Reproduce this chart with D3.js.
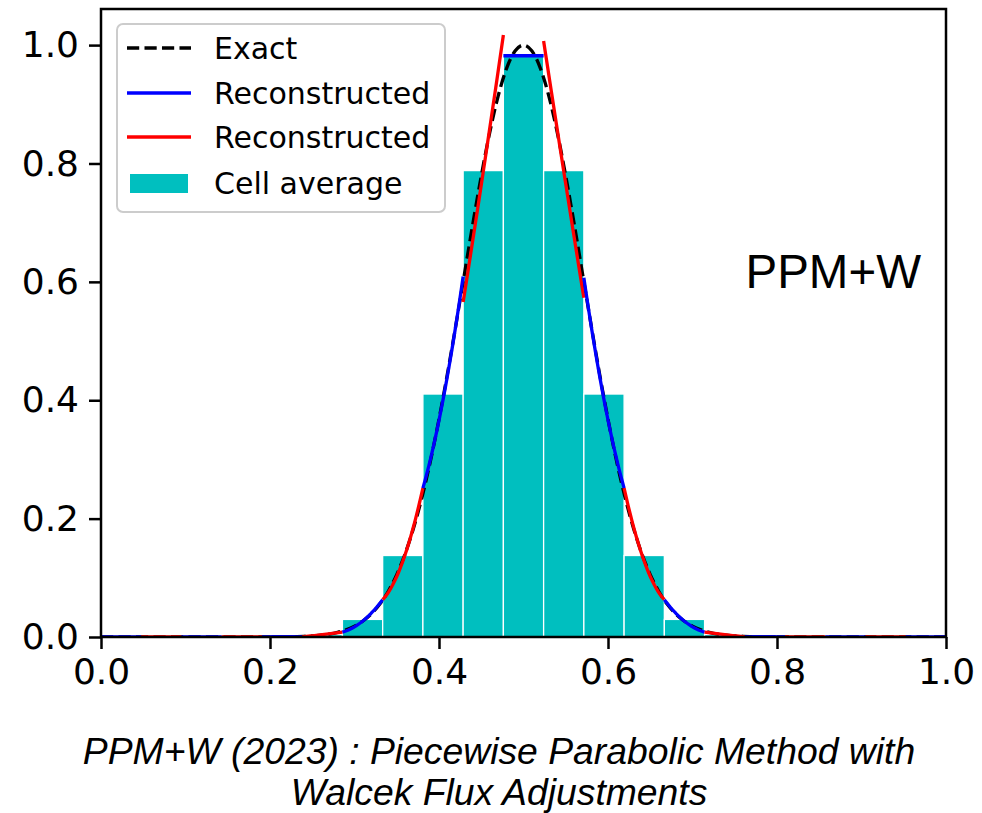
<!DOCTYPE html>
<html>
<head>
<meta charset="utf-8">
<script src="https://cdn.jsdelivr.net/npm/d3@7"></script>
<style>
  html, body { margin: 0; padding: 0; background: #fff; }
  svg { display: block; }
</style>
</head>
<body>
<svg id="chart" width="982" height="813"></svg>
<script>
// ---------- data ----------
const cellEdges = [0, 0.04762, 0.09524, 0.14286, 0.19048, 0.2381, 0.28571, 0.33333, 0.38095, 0.42857, 0.47619,
  0.52381, 0.57143, 0.61905, 0.66667, 0.71429, 0.7619, 0.80952, 0.85714, 0.90476, 0.95238, 1];
const cellAverage = [0, 0, 0, 0, 0.0004, 0.0041, 0.0297, 0.1377, 0.4105, 0.788, 0.982,
  0.788, 0.4105, 0.1377, 0.0297, 0.0041, 0.0004, 0, 0, 0, 0];
const reconLeft = [0, 0, 0, 0, 0, 0.00015, 0.0082, 0.0631, 0.2516, 0.566, 0.982,
  1.007, 0.607, 0.2516, 0.0631, 0.0082, 0.00015, 0, 0, 0, 0];
const reconRight = [0, 0, 0, 0, 0.00015, 0.0082, 0.0631, 0.2516, 0.609, 1.017, 0.982,
  0.573, 0.2516, 0.0631, 0.0082, 0.00015, 0, 0, 0, 0, 0];
const exactX = [0, 0.20, 0.21, 0.22, 0.23, 0.24, 0.25, 0.26, 0.27, 0.28, 0.29, 0.30, 0.31, 0.32, 0.33, 0.34, 0.35,
  0.36, 0.37, 0.38, 0.39, 0.40, 0.41, 0.42, 0.43, 0.44, 0.45, 0.46, 0.47, 0.48, 0.49, 0.50,
  0.51, 0.52, 0.53, 0.54, 0.55, 0.56, 0.57, 0.58, 0.59, 0.60, 0.61, 0.62, 0.63, 0.64, 0.65,
  0.66, 0.67, 0.68, 0.69, 0.70, 0.71, 0.72, 0.73, 0.74, 0.75, 0.76, 0.77, 0.78, 0.79, 0.80, 1];
const exactY = [0, 0.0001, 0.0002, 0.0004, 0.0007, 0.0012, 0.0019, 0.0032, 0.0050, 0.0079, 0.0122, 0.0183,
  0.0271, 0.0392, 0.0556, 0.0773, 0.1054, 0.1409, 0.1845, 0.2369, 0.2982, 0.3679, 0.4449, 0.5273,
  0.6126, 0.6977, 0.7788, 0.8521, 0.9139, 0.9608, 0.9900, 1.0,
  0.9900, 0.9608, 0.9139, 0.8521, 0.7788, 0.6977, 0.6126, 0.5273, 0.4449, 0.3679, 0.2982, 0.2369,
  0.1845, 0.1409, 0.1054, 0.0773, 0.0556, 0.0392, 0.0271, 0.0183, 0.0122, 0.0079, 0.0050, 0.0032,
  0.0019, 0.0012, 0.0007, 0.0004, 0.0002, 0.0001, 0];
const xTicks = [0, 0.2, 0.4, 0.6, 0.8, 1.0];
const yTicks = [0, 0.2, 0.4, 0.6, 0.8, 1.0];
const legendLabels = ["Exact", "Reconstructed", "Reconstructed", "Cell average"];
const seriesColors = ["#000000", "#0000ff", "#ff0000", "#00bfbf"];
const panelLabel = "PPM+W";
const captionLines = ["PPM+W (2023) : Piecewise Parabolic Method with", "Walcek Flux Adjustments"];

// ---------- layout ----------
const L = 101, R = 946, T = 9, B = 637;
const svg = d3.select("#chart");
const x = d3.scaleLinear().domain([0, 1]).range([L, R]);
const y = d3.scaleLinear().domain([0, 1.061]).range([B, T]);

svg.append("defs").append("clipPath").attr("id", "clip")
  .append("rect").attr("x", L).attr("y", T).attr("width", R - L).attr("height", B - T);

const plot = svg.append("g").attr("clip-path", "url(#clip)");

// bars
plot.append("g").selectAll("rect").data(cellAverage).join("rect")
  .attr("x", (d, i) => x(cellEdges[i]))
  .attr("width", (d, i) => x(cellEdges[i + 1]) - x(cellEdges[i]))
  .attr("y", d => y(d))
  .attr("height", d => y(0) - y(d))
  .attr("fill", seriesColors[3])
  .attr("stroke", "#ffffff")
  .attr("stroke-width", 1.3);

const LW = 3.3;
// exact
const exactPts = exactX.map((v, i) => [v, exactY[i]]);
plot.append("path")
  .attr("d", d3.line().x(d => x(d[0])).y(d => y(d[1])).curve(d3.curveMonotoneX)(exactPts))
  .attr("fill", "none").attr("stroke", seriesColors[0]).attr("stroke-width", LW)
  .attr("stroke-dasharray", `${3.7 * LW},${1.6 * LW}`);

// reconstructed parabolas (PPM form defined by edge values and cell average)
const steps = d3.range(0, 1.0001, 0.05);
cellAverage.forEach((avg, i) => {
  const aL = reconLeft[i], aR = reconRight[i];
  const da = aR - aL, a6 = 6 * (avg - 0.5 * (aL + aR));
  const pts = steps.map(s => [cellEdges[i] + s * (cellEdges[i + 1] - cellEdges[i]), aL + s * (da + a6 * (1 - s))]);
  plot.append("path")
    .attr("d", d3.line().x(d => x(d[0])).y(d => y(d[1]))(pts))
    .attr("fill", "none")
    .attr("stroke", i % 2 === 0 ? seriesColors[1] : seriesColors[2])
    .attr("stroke-width", LW)
    .attr("stroke-linecap", "butt");
});

// axes
const tickFont = "DejaVu Sans";
const xAxis = svg.append("g").attr("transform", `translate(0,${B})`)
  .call(d3.axisBottom(x).tickValues(xTicks).tickFormat(d3.format(".1f")).tickSize(12).tickPadding(8));
const yAxis = svg.append("g").attr("transform", `translate(${L},0)`)
  .call(d3.axisLeft(y).tickValues(yTicks).tickFormat(d3.format(".1f")).tickSize(12).tickPadding(10));
[xAxis, yAxis].forEach(g => {
  g.select(".domain").remove();
  g.selectAll(".tick line").attr("stroke", "#000").attr("stroke-width", 2.5);
  g.selectAll(".tick text").attr("font-family", tickFont).attr("font-size", 36).attr("fill", "#000");
});
xAxis.selectAll(".tick text").attr("dy", "0.76em");

// spines
svg.append("rect").attr("x", L).attr("y", T).attr("width", R - L).attr("height", B - T)
  .attr("fill", "none").attr("stroke", "#000").attr("stroke-width", 2.5);

// legend
const lg = svg.append("g");
lg.append("rect").attr("x", 117).attr("y", 24).attr("width", 328).attr("height", 188)
  .attr("rx", 6).attr("fill", "#ffffff").attr("fill-opacity", 0.8)
  .attr("stroke", "#cccccc").attr("stroke-width", 2);
const rowY = [48, 93, 137, 183];
legendLabels.forEach((lab, i) => {
  const cy = rowY[i];
  if (i < 3) {
    const ln = lg.append("line").attr("x1", 127).attr("x2", 191).attr("y1", cy).attr("y2", cy)
      .attr("stroke", seriesColors[i]).attr("stroke-width", LW);
    if (i === 0) ln.attr("stroke-dasharray", `${3.7 * LW},${1.6 * LW}`);
  } else {
    lg.append("rect").attr("x", 130).attr("y", cy - 9).attr("width", 58).attr("height", 19)
      .attr("fill", seriesColors[3]);
  }
  lg.append("text").attr("x", 214).attr("y", cy).attr("dy", "0.36em")
    .attr("font-family", "DejaVu Sans").attr("font-size", 30).attr("fill", "#000").text(lab);
});

// panel label
svg.append("text").attr("x", 921).attr("y", 288).attr("text-anchor", "end")
  .attr("font-family", "Liberation Sans").attr("font-size", 47.5).attr("fill", "#000").text(panelLabel);

// caption
captionLines.forEach((t, i) => {
  svg.append("text").attr("x", 499).attr("y", 764 + i * 41).attr("text-anchor", "middle")
    .attr("font-family", "Liberation Sans").attr("font-style", "italic").attr("font-size", 37.3)
    .attr("fill", "#000").text(t);
});
</script>
</body>
</html>
